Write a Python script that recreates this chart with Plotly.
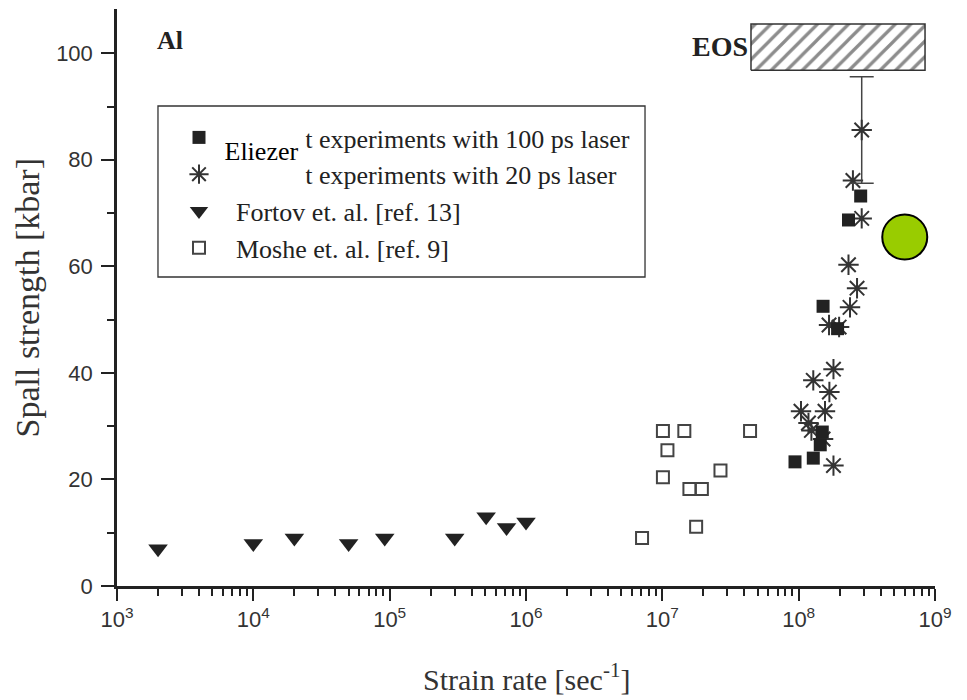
import plotly.graph_objects as go

# Spall strength of aluminium versus strain rate
strain_100ps = [9.4e7, 1.28e8, 1.44e8, 1.49e8, 1.51e8, 1.93e8, 2.32e8, 2.85e8]
spall_100ps = [23.3, 24.0, 26.5, 28.9, 52.5, 48.3, 68.7, 73.2]

strain_20ps = [1.80e8, 1.51e8, 1.24e8, 1.18e8, 1.04e8, 1.56e8, 1.68e8, 1.28e8,
               1.80e8, 1.67e8, 1.98e8, 2.38e8, 2.68e8, 2.32e8, 2.90e8, 2.50e8]
spall_20ps = [22.6, 27.6, 29.2, 30.6, 32.8, 32.8, 36.4, 38.6,
              40.7, 49.0, 48.6, 52.3, 55.9, 60.3, 69.0, 76.1]

# 20 ps point carrying an error bar
strain_20ps_err = [2.90e8]
spall_20ps_err = [85.6]
spall_20ps_err_size = [10.0]

strain_fortov = [2e3, 1e4, 2e4, 5e4, 9.2e4, 3e5, 5.1e5, 7.2e5, 1e6]
spall_fortov = [7, 8, 9, 8, 9, 9, 13, 11, 12]

strain_moshe = [1.01e7, 1.45e7, 4.4e7, 1.09e7, 1.01e7, 2.67e7, 1.58e7, 1.95e7, 1.77e7, 7.1e6]
spall_moshe = [29.1, 29.1, 29.1, 25.5, 20.4, 21.7, 18.2, 18.2, 11.1, 9.0]

strain_highlight = [6.0e8]
spall_highlight = [65.5]

# EOS limit band
eos_strain = [4.47e7, 8.45e8]
eos_spall = [96.8, 105.5]

x_tick_exponents = [3, 4, 5, 6, 7, 8, 9]
y_tick_values = [0, 20, 40, 60, 80, 100]

legend_labels = [
    "Present experiments with 100 ps laser",
    "Present experiments with 20 ps laser",
    "Fortov et. al. [ref. 13]",
    "Moshe et. al. [ref. 9]",
]

INK = "#222222"
STAR = "#333333"
SERIF = "Liberation Serif"
SANS = "Liberation Sans"

fig = go.Figure()

# hatched EOS rectangle
fig.add_trace(go.Scatter(
    x=[eos_strain[0], eos_strain[1], eos_strain[1], eos_strain[0], eos_strain[0]],
    y=[eos_spall[0], eos_spall[0], eos_spall[1], eos_spall[1], eos_spall[0]],
    mode="lines", fill="toself", fillcolor="white",
    fillpattern=dict(shape="/", fgcolor="#1a1a1a", bgcolor="white", size=11, solidity=0.3),
    line=dict(color="#333333", width=1.5), showlegend=False, hoverinfo="skip",
))

fig.add_trace(go.Scatter(
    x=strain_20ps, y=spall_20ps, mode="markers", name=legend_labels[1],
    marker=dict(symbol="asterisk-open", size=17, color=STAR, line=dict(color=STAR, width=2)),
    legendrank=2,
))
fig.add_trace(go.Scatter(
    x=strain_20ps_err, y=spall_20ps_err, mode="markers", showlegend=False,
    marker=dict(symbol="asterisk-open", size=17, color=STAR, line=dict(color=STAR, width=2)),
    error_y=dict(type="data", array=spall_20ps_err_size, visible=True,
                 color="#444444", thickness=1.5, width=12),
))
fig.add_trace(go.Scatter(
    x=strain_100ps, y=spall_100ps, mode="markers", name=legend_labels[0],
    marker=dict(symbol="square", size=13, color=INK, line=dict(width=0)),
    legendrank=1,
))
fig.add_trace(go.Scatter(
    x=strain_fortov, y=spall_fortov, mode="markers", name=legend_labels[2],
    marker=dict(symbol="triangle-down", size=17, color=INK, line=dict(width=0)),
    legendrank=3,
))
fig.add_trace(go.Scatter(
    x=strain_moshe, y=spall_moshe, mode="markers", name=legend_labels[3],
    marker=dict(symbol="square-open", size=12, color="#444444", line=dict(width=2)),
    legendrank=4,
))
fig.add_trace(go.Scatter(
    x=strain_highlight, y=spall_highlight, mode="markers", showlegend=False,
    marker=dict(symbol="circle", size=45, color="#99cc00", line=dict(color="black", width=2)),
))

minor_x = [m * 10 ** e for e in range(3, 9) for m in range(2, 10)]

fig.update_xaxes(
    type="log", range=[3, 9],
    showline=True, linecolor=INK, linewidth=2.5, showgrid=False, zeroline=False,
    tickmode="array", tickvals=[10 ** e for e in x_tick_exponents],
    ticktext=[f"10<sup>{e}</sup>" for e in x_tick_exponents],
    ticks="outside", ticklen=12, tickwidth=2, tickcolor=INK,
    tickfont=dict(family=SANS, size=22, color="#333333"),
    minor=dict(tickmode="array", tickvals=minor_x, ticks="outside", ticklen=7,
               tickwidth=1.8, tickcolor=INK, showgrid=False),
)
fig.update_yaxes(
    range=[0, 108.3],
    showline=True, linecolor=INK, linewidth=2.5, showgrid=False, zeroline=False,
    tickmode="array", tickvals=y_tick_values,
    ticks="outside", ticklen=13, tickwidth=2, tickcolor=INK, ticklabelstandoff=4,
    tickfont=dict(family=SANS, size=22, color="#333333"),
    minor=dict(tickmode="array", tickvals=[10, 30, 50, 70, 90], ticks="outside",
               ticklen=7, tickwidth=2, tickcolor=INK, showgrid=False),
)

fig.update_layout(
    width=967, height=700,
    margin=dict(l=117, r=32, t=9, b=114),
    paper_bgcolor="white", plot_bgcolor="white",
    showlegend=True,
    legend=dict(
        x=(162 - 117) / 818, y=(586 - 114) / 577, xanchor="left", yanchor="top",
        bgcolor="rgba(0,0,0,0)", borderwidth=0, itemwidth=64,
        font=dict(family=SERIF, size=26, color=INK),
        itemclick=False, itemdoubleclick=False,
    ),
    shapes=[
        dict(type="rect", xref="paper", yref="paper",
             x0=0.0501, x1=0.6455, y0=0.5355, y1=0.8319,
             line=dict(color="#333333", width=1.3), fillcolor="rgba(0,0,0,0)"),
    ],
    annotations=[
        dict(text="Strain rate [sec<sup>-1</sup>]", xref="paper", yref="paper",
             x=0.5, y=0, yshift=-91, xanchor="center", yanchor="middle", showarrow=False,
             font=dict(family=SERIF, size=30, color="#333333")),
        dict(text="Spall strength [kbar]", xref="paper", yref="paper",
             x=0, y=0.5, xshift=-90, xanchor="center", yanchor="middle",
             textangle=-90, showarrow=False,
             font=dict(family=SERIF, size=34, color="#333333")),
        dict(text="<b>Al</b>", xref="paper", yref="paper", x=0.0465, y=0.946,
             xanchor="left", yanchor="middle", showarrow=False,
             font=dict(family=SERIF, size=26, color=INK)),
        dict(text="<b>EOS</b>", xref="x", yref="y", x=7.64, y=101.2,
             xanchor="right", yanchor="middle", showarrow=False,
             font=dict(family=SERIF, size=28, color=INK)),
        dict(text="Eliezer", xref="paper", yref="paper",
             x=(261.5 - 117) / 818, y=(586 - 144) / 577,
             xanchor="center", yanchor="middle", width=87, height=44,
             align="center", valign="bottom", bgcolor="white", borderpad=0,
             showarrow=False, font=dict(family=SERIF, size=26, color="black")),
        dict(text=" ", xref="paper", yref="paper",
             x=(269 - 117) / 818, y=(586 - 176) / 577,
             xanchor="center", yanchor="middle", width=72, height=30,
             bgcolor="white", borderpad=0, showarrow=False,
             font=dict(family=SERIF, size=12, color="white")),
    ],
)

fig.write_html("out.html")
